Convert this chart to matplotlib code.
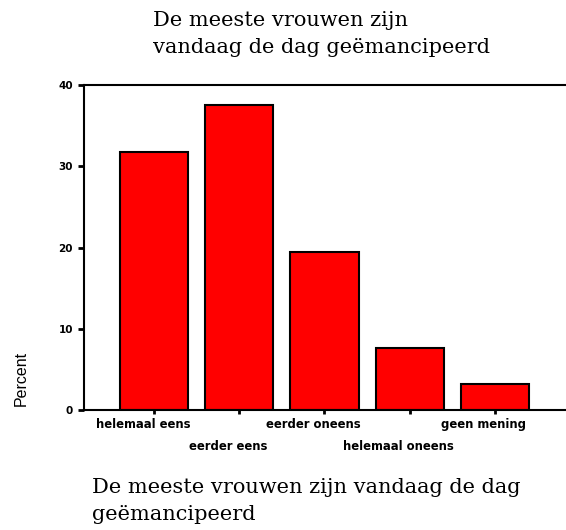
import matplotlib.pyplot as plt
import matplotlib.transforms as mtransforms

categories = ["helemaal eens", "eerder eens", "eerder oneens",
              "helemaal oneens", "geen mening"]
percent = [31.8, 37.5, 19.4, 7.6, 3.2]
yticks = [0, 10, 20, 30, 40]

title_top = "De meeste vrouwen zijn\nvandaag de dag geëmancipeerd"
title_bottom = "De meeste vrouwen zijn vandaag de dag\ngeëmancipeerd"

fig = plt.figure(figsize=(5.66, 5.30), dpi=100)
ax = fig.add_axes([84 / 566, 1 - 410 / 530, 1 - 84 / 566 + 0.01, (410 - 85) / 530])

x = list(range(len(categories)))
ax.bar(x, percent, width=0.8, color="#ff0000", edgecolor="black", linewidth=1.5)

ax.set_xlim(-0.82, 4.9)
ax.set_ylim(0, 40)
ax.set_yticks(yticks)
ax.set_yticklabels([str(v) for v in yticks], fontsize=7.5, fontweight="bold")
ax.set_xticks(x)
ax.set_xticklabels([])

# staggered category labels, a bit left of the ticks like the original
trans = mtransforms.blended_transform_factory(ax.transData, ax.transAxes)
for i, name in enumerate(categories):
    dy = -18 if i % 2 == 0 else -40
    off = mtransforms.ScaledTranslation(-11 / 100, dy / 100, fig.dpi_scale_trans)
    ax.text(x[i], 0, name, transform=trans + off, ha="center", va="baseline",
            fontsize=8.4, fontweight="bold")

ax.tick_params(axis="both", direction="out", length=4, width=2, color="black")
ax.tick_params(axis="x", length=3)
ax.tick_params(axis="y", pad=4)

for s in ["left", "top", "bottom"]:
    ax.spines[s].set_linewidth(1.5)
ax.spines["right"].set_visible(False)

fig.text(21 / 566, 1 - 378 / 530, "Percent", rotation=90, ha="center", va="center",
         fontsize=11.5, family="Liberation Sans")

fig.text(153 / 566, 1 - 11 / 530, title_top, ha="left", va="top",
         fontsize=15, family="DejaVu Serif", linespacing=1.55)
fig.text(92 / 566, 1 - 478 / 530, title_bottom, ha="left", va="top",
         fontsize=15, family="DejaVu Serif", linespacing=1.55)

fig.savefig("out.png", dpi=100)
